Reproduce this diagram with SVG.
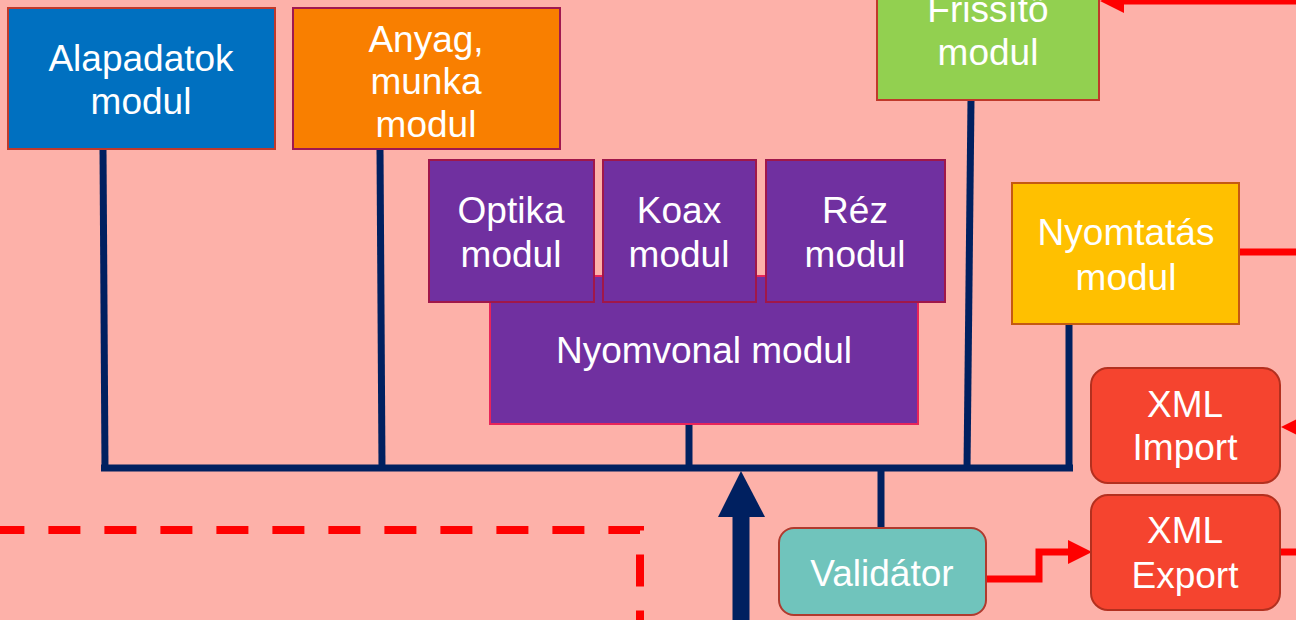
<svg xmlns="http://www.w3.org/2000/svg" width="1296" height="620" viewBox="0 0 1296 620">
<style>
text{font-family:"Liberation Sans",Arial,sans-serif;font-size:37px;fill:#fff;text-anchor:middle}
.bus{stroke:#002060;stroke-width:7;fill:none}
.red{stroke:#f00;stroke-width:7;fill:none}
.ah{fill:#f00}
.purple{fill:#7030A0;stroke:#A0174A;stroke-width:2}
.xml{fill:#F5442F;stroke:#B3301F;stroke-width:2}
</style>
<rect x="0" y="0" width="1296" height="620" fill="#FDB1A9"/>
<g id="connectors">
<path class="bus" d="M103 149 L105 468"/>
<path class="bus" d="M380 149 L382 468"/>
<path class="bus" d="M689 424 V468"/>
<path class="bus" d="M971 100 L967 468"/>
<path class="bus" d="M1069 324 V471"/>
<path class="bus" d="M101 468 H1073" stroke-width="8"/>
<path class="bus" d="M881 468 V547"/>
<path d="M741 620 V514" stroke="#002060" stroke-width="17" fill="none"/>
<polygon points="741,471 718,517 765,517" fill="#002060"/>
<path d="M-7.6 530 H640 V640" stroke="#f00" stroke-width="8" fill="none" stroke-dasharray="32 24"/>
<path class="red" d="M1124 1 H1300"/>
<polygon class="ah" points="1100,1 1124,-11 1124,13"/>
<path class="red" d="M1239 252 H1300"/>
<path class="red" d="M1300 427 H1302"/>
<polygon class="ah" points="1281,427 1305,415 1305,439"/>
<path class="red" d="M986 579 H1039 V552 H1070"/>
<polygon class="ah" points="1092,552 1068,540 1068,564"/>
<path class="red" d="M1280 552 H1300"/>
</g>
<g id="alapadatok">
<rect x="8" y="8" width="267" height="141" fill="#0070C0" stroke="#C0392B" stroke-width="2"/>
<text x="141" y="71">Alapadatok</text>
<text x="141" y="114">modul</text>
</g>
<g id="anyag">
<rect x="293" y="8" width="267" height="141" fill="#F97F00" stroke="#A01850" stroke-width="2"/>
<text x="426" y="52">Anyag,</text>
<text x="426" y="94">munka</text>
<text x="426" y="137">modul</text>
</g>
<g id="frissito">
<rect x="877" y="-45" width="222" height="145" fill="#92D050" stroke="#C0392B" stroke-width="2"/>
<text x="988" y="22">Frissítő</text>
<text x="988" y="65">modul</text>
</g>
<g id="nyomvonal">
<rect x="490" y="276" width="428" height="148" fill="#7030A0" stroke="#E8245A" stroke-width="2"/>
<text x="704" y="363">Nyomvonal modul</text>
</g>
<g id="optika">
<rect class="purple" x="429" y="160" width="165" height="142"/>
<text x="511" y="223">Optika</text>
<text x="511" y="267">modul</text>
</g>
<g id="koax">
<rect class="purple" x="603" y="160" width="153" height="142"/>
<text x="679" y="223">Koax</text>
<text x="679" y="267">modul</text>
</g>
<g id="rez">
<rect class="purple" x="766" y="160" width="179" height="142"/>
<text x="855" y="223">Réz</text>
<text x="855" y="267">modul</text>
</g>
<g id="nyomtatas">
<rect x="1012" y="183" width="227" height="141" fill="#FFC000" stroke="#C55A11" stroke-width="2"/>
<text x="1126" y="245">Nyomtatás</text>
<text x="1126" y="290">modul</text>
</g>
<g id="xml-import">
<rect class="xml" x="1091" y="368" width="189" height="115" rx="17"/>
<text x="1185" y="417">XML</text>
<text x="1185" y="460">Import</text>
</g>
<g id="xml-export">
<rect class="xml" x="1091" y="495" width="189" height="115" rx="17"/>
<text x="1185" y="543">XML</text>
<text x="1185" y="588">Export</text>
</g>
<g id="validator">
<rect x="779" y="528" width="207" height="87" rx="15" fill="#70C4BC" stroke="#B03A2E" stroke-width="2"/>
<text x="882" y="586">Validátor</text>
</g>
</svg>
